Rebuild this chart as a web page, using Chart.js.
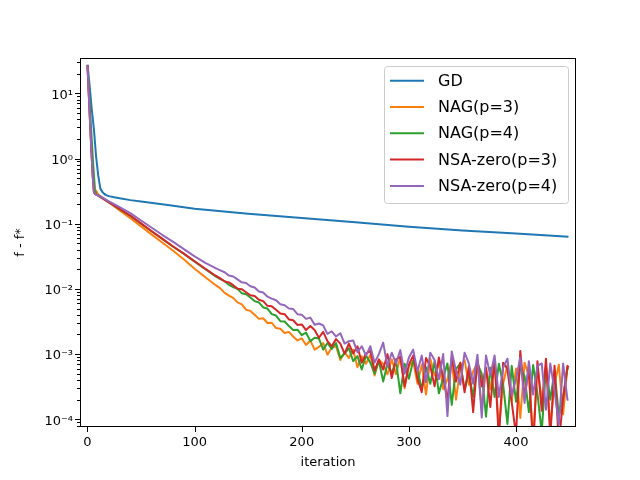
<!DOCTYPE html>
<html>
<head>
<meta charset="utf-8">
<title>f - f* vs iteration</title>
<script src="https://cdn.jsdelivr.net/npm/chart.js@4.4.1/dist/chart.umd.min.js"></script>
<style>
  html, body { margin: 0; padding: 0; background: #fff; }
</style>
</head>
<body>
<canvas id="chart" width="640" height="480"></canvas>
<script>
// ---------- data ----------
const gdIters = [0, 2, 4, 6, 8, 10, 12, 14, 16, 18, 20, 25, 30, 40, 50, 75, 100, 150, 200, 250, 300, 350, 400, 449];
const gdVals  = [27.5, 13, 5.6, 2.8, 1.08, 0.55, 0.345, 0.305, 0.283, 0.272, 0.265, 0.254, 0.245, 0.230, 0.219, 0.193, 0.170, 0.142, 0.122, 0.105, 0.090, 0.079, 0.071, 0.063];

const iters = [0, 1, 2, 3, 4, 5, 6, 7, 8, 9, 10, 20, 30, 40, 50, 60, 70, 80, 90, 100, 110, 120,
  124, 128, 132, 136, 140, 144, 148, 152, 156, 160, 164, 168, 172, 176, 180, 184, 188, 192, 196, 200,
  204, 208, 212, 216, 220, 224, 228, 232, 236, 240, 244, 248, 252, 256, 260, 264, 268, 272, 276, 280,
  284, 288, 292, 296, 300, 304, 308, 312, 316, 320, 324, 328, 332, 336, 340, 344, 348, 352, 356, 360,
  364, 368, 372, 376, 380, 384, 388, 392, 396, 400, 404, 408, 412, 416, 420, 424, 428, 432, 436, 440,
  444, 448, 449];

const nag3 = [27, 12, 5.2, 2.3, 1.05, 0.52, 0.30, 0.29, 0.32, 0.30, 0.28, 0.214, 0.160, 0.121, 0.091, 0.068, 0.051, 0.0385, 0.0282, 0.0204, 0.0151, 0.0113,
  0.0102, 0.0087, 0.0079, 0.0073, 0.0062, 0.0058, 0.0048, 0.0046, 0.0040, 0.00347, 0.00355, 0.0030, 0.00302, 0.00251, 0.00245, 0.00211, 0.00219, 0.00186, 0.00162, 0.00174,
  0.00138, 0.00162, 0.00117, 0.00129, 0.00148, 0.00098, 0.00126, 0.00132, 0.00081, 0.00107, 0.00087, 0.00117, 0.00063, 0.00093, 0.00071, 0.00098, 0.00047, 0.00081, 0.00071, 0.00049,
  0.00083, 0.00049, 0.00091, 0.0003, 0.00065, 0.00079, 0.00035, 0.00069, 0.00024, 0.00085, 0.00047, 0.00074, 0.00029, 0.00041, 0.00079, 0.0002, 0.00062, 0.00081, 0.00034, 0.00054,
  0.00074, 0.000148, 0.00058, 0.00029, 0.00079, 0.000071, 0.00035, 0.00069, 0.00019, 0.0006, 0.000105, 0.00074, 0.00046, 0.000051, 0.00063, 0.0002, 0.00066, 0.000078, 0.00035, 0.00069,
  0.00012, 0.00063, 0.00063];

const nag4 = [27, 14, 7.2, 3.7, 1.9, 1.0, 0.55, 0.33, 0.285, 0.278, 0.27, 0.212, 0.167, 0.132, 0.100, 0.076, 0.058, 0.0443, 0.0343, 0.0262, 0.0200, 0.0154,
  0.0141, 0.0132, 0.0115, 0.0107, 0.0100, 0.0086, 0.0083, 0.0074, 0.0065, 0.0062, 0.0052, 0.0050, 0.0041, 0.0039, 0.0032, 0.00316, 0.00269, 0.00234, 0.00237, 0.00195,
  0.00214, 0.00158, 0.00178, 0.00174, 0.00117, 0.00148, 0.0012, 0.00148, 0.00087, 0.00102, 0.00123, 0.00078, 0.00093, 0.00058, 0.00095, 0.00074, 0.0005, 0.00079, 0.00038, 0.00071,
  0.00051, 0.00079, 0.00025, 0.00071, 0.00042, 0.00079, 0.00058, 0.00029, 0.00063, 0.00035, 0.00078, 0.00025, 0.00043, 0.00072, 0.000166, 0.00059, 0.00072, 0.00029, 0.00051, 0.00022,
  0.00071, 0.0005, 0.00011, 0.00062, 0.00022, 0.00071, 0.00034, 0.000085, 0.00066, 0.000186, 0.00063, 0.00046, 0.000129, 0.00068, 0.00025, 0.000063, 0.00063, 0.0002, 0.00056, 0.000112,
  0.00022, 0.0006, 0.00058];

const nsa3 = [27, 11, 4.8, 2.1, 1.0, 0.5, 0.31, 0.285, 0.28, 0.275, 0.27, 0.213, 0.168, 0.133, 0.101, 0.0767, 0.0585, 0.0447, 0.0347, 0.0266, 0.0204, 0.0158,
  0.0145, 0.0130, 0.0126, 0.0114, 0.0101, 0.0099, 0.0089, 0.0080, 0.0078, 0.0068, 0.0065, 0.0055, 0.0054, 0.0048, 0.0042, 0.0041, 0.0034, 0.0033, 0.0028, 0.00285,
  0.00234, 0.00269, 0.00234, 0.00178, 0.00219, 0.00158, 0.00132, 0.0017, 0.00145, 0.00102, 0.00145, 0.00102, 0.00132, 0.00074, 0.00102, 0.00112, 0.00056, 0.00083, 0.00058, 0.0010,
  0.00043, 0.00083, 0.00091, 0.00032, 0.00069, 0.00095, 0.00042, 0.00026, 0.00087, 0.00065, 0.00032, 0.00089, 0.00044, 0.000195, 0.00089, 0.00038, 0.00074, 0.00026, 0.00065, 0.000129,
  0.00083, 0.00032, 0.00062, 0.000155, 0.00085, 0.000048, 0.00074, 0.00059, 0.000182, 0.000058, 0.00112, 0.00022, 0.00062, 0.000035, 0.00078, 0.000135, 0.00085, 0.000054, 0.00066, 0.000042,
  0.00021, 0.00066, 0.00062];

const nsa4 = [27, 11.5, 5.0, 2.2, 1.0, 0.5, 0.31, 0.285, 0.28, 0.276, 0.272, 0.220, 0.179, 0.145, 0.112, 0.0867, 0.067, 0.0525, 0.0407, 0.0316, 0.0251, 0.0207,
  0.0193, 0.0180, 0.0160, 0.0155, 0.0140, 0.0126, 0.0123, 0.0110, 0.0105, 0.0091, 0.0088, 0.0076, 0.0071, 0.0067, 0.0058, 0.0056, 0.0050, 0.0049, 0.0041, 0.0040,
  0.00347, 0.00363, 0.00282, 0.00295, 0.00275, 0.00204, 0.00224, 0.00186, 0.00209, 0.00145, 0.00158, 0.00162, 0.00107, 0.00132, 0.00095, 0.00132, 0.00074, 0.0010, 0.0015, 0.00065,
  0.00105, 0.00072, 0.00115, 0.0005, 0.00089, 0.00117, 0.00054, 0.00095, 0.00037, 0.00105, 0.00081, 0.00041, 0.0010, 0.000112, 0.0011, 0.00055, 0.00034, 0.00105, 0.00072, 0.00035,
  0.00098, 0.000107, 0.00095, 0.00047, 0.00095, 0.00022, 0.00062, 0.00085, 0.00023, 0.00041, 0.00089, 0.000178, 0.00078, 0.00024, 0.00066, 0.00072, 0.000141, 0.00072, 0.00027, 0.000083,
  0.00072, 0.0002, 0.0002];

const seriesNames  = ['GD', 'NAG(p=3)', 'NAG(p=4)', 'NSA-zero(p=3)', 'NSA-zero(p=4)'];
const seriesColors = ['#1f77b4', '#ff7f0e', '#2ca02c', '#d62728', '#9467bd'];

const xTicks = [0, 100, 200, 300, 400];
const yMajorTicks  = [1e-4, 1e-3, 1e-2, 1e-1, 1, 10];
const yTickLabels  = ['10⁻⁴', '10⁻³', '10⁻²', '10⁻¹', '10⁰', '10¹'];
const yMinorMant   = [2, 3, 4, 5, 6, 7, 8, 9];

const X_MIN = -7, X_MAX = 456;
const Y_MIN = 7.62e-5, Y_MAX = 34.8;

// ---------- helpers ----------
const pts = (xs, ys) => xs.map((x, i) => ({ x, y: ys[i] }));

const yAllTicks = (() => {
  const out = [];
  [1e-5].concat(yMajorTicks).forEach(d => {
    if (d >= Y_MIN && d <= Y_MAX) out.push(d);
    yMinorMant.forEach(m => { const v = m * d; if (v >= Y_MIN && v <= Y_MAX) out.push(v); });
  });
  return out.sort((a, b) => a - b);
})();

const majorIndex = (v) => yMajorTicks.findIndex(d => Math.abs(v / d - 1) < 1e-6);

// frame, tick marks and legend, drawn the matplotlib way
const axesDecor = {
  id: 'axesDecor',
  afterDatasetsDraw(chart) {
    const { ctx, chartArea: a, scales: { x, y } } = chart;
    ctx.save();
    ctx.strokeStyle = '#000';
    ctx.lineWidth = 1;
    ctx.beginPath();
    xTicks.forEach(v => {
      const px = Math.round(x.getPixelForValue(v)) + 0.5;
      ctx.moveTo(px, a.bottom);
      ctx.lineTo(px, a.bottom + 5);
    });
    yAllTicks.forEach(v => {
      const py = Math.round(y.getPixelForValue(v)) + 0.5;
      const len = majorIndex(v) >= 0 ? 5 : 3;
      ctx.moveTo(a.left, py);
      ctx.lineTo(a.left - len, py);
    });
    ctx.stroke();
    ctx.strokeRect(Math.round(a.left) + 0.5, Math.round(a.top) + 0.5,
      Math.round(a.right - a.left) - 1, Math.round(a.bottom - a.top) - 1);

    // ---------- legend ----------
    const lw = 184, lh = 137;
    const lx = a.right - 8 - lw, ly = a.top + 8;
    ctx.beginPath();
    ctx.roundRect(lx + 0.5, ly + 0.5, lw, lh, 3);
    ctx.fillStyle = 'rgba(255,255,255,0.8)';
    ctx.fill();
    ctx.strokeStyle = '#cccccc';
    ctx.stroke();
    ctx.font = '16px "DejaVu Sans"';
    ctx.textBaseline = 'middle';
    ctx.textAlign = 'left';
    seriesNames.forEach((name, i) => {
      const ry = ly + 14.7 + i * 26.3;
      ctx.beginPath();
      ctx.strokeStyle = seriesColors[i];
      ctx.lineWidth = 2;
      ctx.moveTo(lx + 6, ry);
      ctx.lineTo(lx + 40, ry);
      ctx.stroke();
      ctx.fillStyle = '#000';
      ctx.fillText(name, lx + 54, ry + 1);
    });
    ctx.restore();
  }
};

// ---------- chart ----------
Chart.defaults.font.family = '"DejaVu Sans", sans-serif';
Chart.defaults.color = '#000';

const seriesData = [pts(gdIters, gdVals), pts(iters, nag3), pts(iters, nag4), pts(iters, nsa3), pts(iters, nsa4)];

new Chart(document.getElementById('chart'), {
  type: 'line',
  data: {
    datasets: seriesData.map((d, i) => ({
      label: seriesNames[i],
      data: d,
      borderColor: seriesColors[i],
      backgroundColor: seriesColors[i],
      borderWidth: 2,
      borderJoinStyle: 'round',
      pointRadius: 0,
      tension: 0,
      fill: false,
      clip: 0,
      order: seriesData.length - i
    }))
  },
  options: {
    responsive: false,
    animation: false,
    devicePixelRatio: 1,
    layout: { padding: { left: 0, top: 58, right: 64, bottom: 0 } },
    plugins: { legend: { display: false }, tooltip: { enabled: false } },
    scales: {
      x: {
        type: 'linear',
        min: X_MIN,
        max: X_MAX,
        grid: { display: false, drawTicks: false },
        border: { display: false },
        afterBuildTicks: (s) => { s.ticks = xTicks.map(v => ({ value: v })); },
        afterFit: (s) => { s.height = 53; },
        ticks: { padding: 8, maxRotation: 0, autoSkip: false, font: { size: 13 }, color: '#000' },
        title: { display: true, text: 'iteration', font: { size: 13 }, color: '#000', padding: { top: 0, bottom: 10 } }
      },
      y: {
        type: 'logarithmic',
        min: Y_MIN,
        max: Y_MAX,
        grid: { display: false, drawTicks: false },
        border: { display: false },
        afterBuildTicks: (s) => { s.ticks = yAllTicks.map(v => ({ value: v })); },
        afterFit: (s) => { s.width = 80; },
        ticks: {
          padding: 7,
          autoSkip: false,
          labelOffset: 2,
          font: { size: 13 },
          color: '#000',
          callback: (v) => { const k = majorIndex(v); return k >= 0 ? yTickLabels[k] : ''; }
        },
        title: { display: true, text: 'f - f*', font: { size: 13 }, color: '#000', padding: { top: 13, bottom: 0 } }
      }
    }
  },
  plugins: [axesDecor]
});
</script>
</body>
</html>
